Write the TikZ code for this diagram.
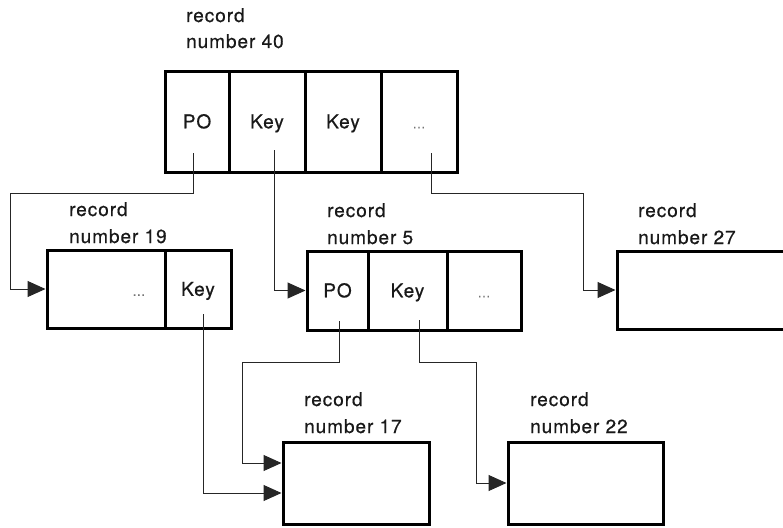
\documentclass[tikz,border=0pt]{standalone}
\usepackage{fontspec}
\setmainfont{TeX Gyre Heros}
\newfontfamily\diafont{TeX Gyre Heros}[LetterSpace=5,FakeBold=0.6]
\usetikzlibrary{arrows.meta,calc}
\begin{document}
\begin{tikzpicture}[x=1pt,y=-1pt,
  txt/.style={font=\diafont\fontsize{19}{26}\selectfont,text=black!90},
  cell/.style={txt,draw=black,line width=3pt,inner sep=0pt,line join=miter,
    text height=13.6pt,text depth=0pt},
  lbl/.style={txt,inner sep=0pt,anchor=base west},
  conn/.style={draw=black!85,line width=1pt,-{Triangle[length=18pt 0 0,width=16pt 0 0]}},
]
\useasboundingbox (0,0) rectangle (783,527);
\newcommand{\dd}{\textcolor{black!55}{\fontsize{13}{13}\selectfont...}}
% record 40
\node[cell,minimum width=64pt,minimum height=101pt] (r40a) at (197,121.5) {PO};
\node[cell,minimum width=76pt,minimum height=101pt] (r40b) at (267,121.5) {Key};
\node[cell,minimum width=76pt,minimum height=101pt] (r40c) at (343,121.5) {Key};
\node[cell,minimum width=76pt,minimum height=101pt] (r40d) at (419,121.5) {\dd};
\node[lbl] (l40a) at (186,22) {record};
\node[lbl] (l40b) at (186,48) {number 40};
% record 19
\node[cell,minimum width=118pt,minimum height=78pt,text width=78pt,inner xsep=20pt,align=right] (r19a) at (106,289) {\dd};
\node[cell,minimum width=66pt,minimum height=78pt] (r19b) at (198,289) {Key};
\node[lbl] (l19a) at (69,216) {record};
\node[lbl] (l19b) at (69,243) {number 19};
% record 5
\node[cell,minimum width=61pt,minimum height=79pt] (r5a) at (337.5,290.5) {PO};
\node[cell,minimum width=79pt,minimum height=79pt] (r5b) at (407.5,290.5) {Key};
\node[cell,minimum width=74pt,minimum height=79pt] (r5c) at (484,290.5) {\dd};
\node[lbl] (l5a) at (327,217) {record};
\node[lbl] (l5b) at (327,244) {number 5};
% record 27
\node[cell,minimum width=183pt,minimum height=78pt] (r27) at (708.5,290) {};
\node[lbl] (l27a) at (638,217) {record};
\node[lbl] (l27b) at (638,244) {number 27};
% record 17
\node[cell,minimum width=146pt,minimum height=82pt] (r17) at (356,483) {};
\node[lbl] (l17a) at (304,406) {record};
\node[lbl] (l17b) at (304,433) {number 17};
% record 22
\node[cell,minimum width=155pt,minimum height=82pt] (r22) at (585.5,483) {};
\node[lbl] (l22a) at (530,406) {record};
\node[lbl] (l22b) at (530,433) {number 22};
% connector start points
\coordinate (s40a) at (193,153);
\coordinate (s40b) at (274,150);
\coordinate (s40d) at (431,153);
\coordinate (s19b) at (203,314);
\coordinate (s5a) at (339,321);
\coordinate (s5b) at (419,320);
% connectors
\draw[conn] (s40a) |- (10,193) |- (r19a.west);
\draw[conn] (s40b) |- (r5a.west);
\draw[conn] (s40d) |- (583,193) |- (r27.west);
\draw[conn] (s19b) |- ([yshift=-10pt]r17.west);
\draw[conn] (s5a) |- (242,362) |- ([yshift=20pt]r17.west);
\draw[conn] (s5b) |- (476,362) |- (r22.west);
\end{tikzpicture}
\end{document}
